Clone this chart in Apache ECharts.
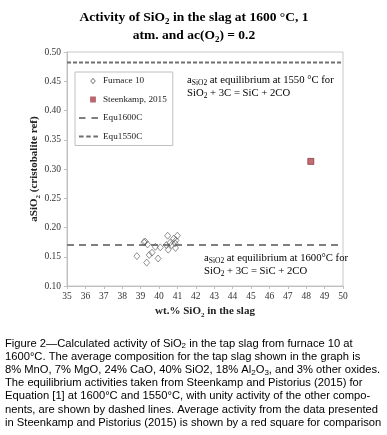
<!DOCTYPE html>
<html>
<head>
<meta charset="utf-8">
<script src="https://cdn.jsdelivr.net/npm/echarts@6/dist/echarts.min.js"></script>
<style>
html,body{margin:0;padding:0;background:#fff;}
#chart{width:387px;height:435px;}
</style>
</head>
<body>
<div id="chart"></div>
<script>
// ---- data ----
const xTicks = { min: 35, max: 50, interval: 1 };
const yTicks = { min: 0.10, max: 0.50, interval: 0.05 };
const furnaceX = [38.8, 39.18, 39.25, 39.38, 39.47, 39.33, 39.62, 39.8, 39.95, 40.07, 40.47, 40.5, 40.6, 40.8, 40.92, 41.0, 40.87, 40.9, 40.68, 40.4];
const furnaceY = [0.151, 0.175, 0.176, 0.171, 0.153, 0.140, 0.157, 0.167, 0.147, 0.166, 0.186, 0.162, 0.174, 0.181, 0.178, 0.186, 0.173, 0.165, 0.170, 0.170];
const steenX = [48.25];
const steenY = [0.313];
const equ1600 = 0.170;
const equ1550 = 0.482;
const seriesNames = ['Furnace 10', 'Steenkamp, 2015', 'Equ1600C', 'Equ1550C'];

const serif = '"Liberation Serif", "DejaVu Serif", serif';
const sans = '"Liberation Sans", Arial, sans-serif';

const chart = echarts.init(document.getElementById('chart'), null, { renderer: 'canvas' });

function subRich(size, family, weight, color) {
  return {
    n: { fontSize: size, fontFamily: family, fontWeight: weight, color: color, lineHeight: size + 4, verticalAlign: 'middle' },
    s: { fontSize: Math.round(size * 0.68), fontFamily: family, fontWeight: weight, color: color, lineHeight: Math.round(size * 0.68), verticalAlign: 'bottom' }
  };
}

const captionLines = [
  '{n|Figure 2\u2014Calculated activity of SiO}{s|2}{n| in the tap slag from furnace 10 at}',
  '{n|1600°C. The average composition for the tap slag shown in the graph is}',
  '{n|8% MnO, 7% MgO, 24% CaO, 40% SiO2, 18% Al}{s|2}{n|O}{s|3}{n|, and 3% other oxides.}',
  '{n|The equilibrium activities taken from Steenkamp and Pistorius (2015) for}',
  '{n|Equation [1] at 1600°C and 1550°C, with unity activity of the other compo-}',
  '{n|nents, are shown by dashed lines. Average activity from the data presented}',
  '{n|in Steenkamp and Pistorius (2015) is shown by a red square for comparison}'
];

function annRich() {
  const r = subRich(10.7, serif, 'normal', '#222');
  r.n.lineHeight = 13; r.s.fontSize = 7.5; r.s.lineHeight = 8;
  return r;
}

// legend icon shapes (19 x 7 box; tiny corner specks fix the bounding box)
const specks = 'M0,0l0.01,0l0,0.01z M19,7l-0.01,0l0,-0.01z ';
const iconDiamond = 'path://' + specks + 'M14,0.2L16.8,3.5L14,6.8L11.2,3.5Z M14,1.4L12.2,3.5L14,5.6L15.8,3.5Z';
const iconSquare = 'path://' + specks + 'M11.1,0.6h5.8v5.8h-5.8z';
const iconDash1600 = 'path://' + specks + 'M0,2.6h6.5v1.8h-6.5z M12.5,2.6h6.5v1.8h-6.5z';
const iconDash1550 = 'path://' + specks + 'M0,2.6h4.6v1.8h-4.6z M7.2,2.6h4.6v1.8h-4.6z M14.4,2.6h4.6v1.8h-4.6z';

const graphics = [];
graphics.push({
  type: 'text', x: 194, y: 9,
  style: {
    text: '{n|Activity of SiO}{s|2}{n| in the slag at 1600 °C, 1}\n{n|atm. and ac(O}{s|2}{n|) = 0.2}',
    textAlign: 'center',
    rich: subRich(13.5, serif, 'bold', '#222')
  }
});
graphics.push({
  type: 'text', x: 187, y: 74,
  style: { text: '{n|a}{s|SiO2}{n| at equilibrium at 1550 °C for}\n{n|SiO}{s|2}{n| + 3C = SiC + 2CO}', rich: annRich() }
});
graphics.push({
  type: 'text', x: 204, y: 252,
  style: { text: '{n|a}{s|SiO2}{n| at equilibrium at 1600°C for}\n{n|SiO}{s|2}{n| + 3C = SiC + 2CO}', rich: annRich() }
});
captionLines.forEach(function (t, i) {
  graphics.push({
    type: 'text', x: 5, y: 337 + i * 13.2,
    style: { text: t, rich: (function(){ const r = subRich(11.2, sans, 'normal', '#111'); r.n.lineHeight = 13; r.s.fontSize = 8; r.s.lineHeight = 9; return r; })() }
  });
});

const option = {
  backgroundColor: '#fff',
  animation: false,
  grid: { left: 67, right: 44, top: 52, bottom: 149, show: true, borderColor: '#c8c8c8', borderWidth: 1 },
  legend: {
    orient: 'vertical', left: 75, top: 72,
    data: [
      { name: seriesNames[0], icon: iconDiamond, itemStyle: { color: '#555', borderWidth: 0 } },
      { name: seriesNames[1], icon: iconSquare, itemStyle: { color: '#a8404a', borderWidth: 0 } },
      { name: seriesNames[2], icon: iconDash1600, itemStyle: { color: '#7f7f7f', borderWidth: 0 } },
      { name: seriesNames[3], icon: iconDash1550, itemStyle: { color: '#707070', borderWidth: 0 } }
    ],
    itemWidth: 19, itemHeight: 7, itemGap: 8.5,
    padding: [4, 6, 4, 4],
    backgroundColor: '#fff', borderColor: '#c0c0c0', borderWidth: 1,
    textStyle: { fontFamily: serif, fontSize: 9.2, color: '#222', lineHeight: 10 }
  },
  xAxis: {
    type: 'value', min: xTicks.min, max: xTicks.max, interval: xTicks.interval,
    name: '{n|wt.% SiO}{s|2}{n| in the slag}', nameLocation: 'middle', nameGap: 18,
    nameMoveOverlap: false,
    nameTextStyle: { rich: subRich(11, serif, 'bold', '#222') },
    axisLine: { lineStyle: { color: '#bfbfbf' } },
    axisTick: { show: true, length: 3, lineStyle: { color: '#bfbfbf' } },
    axisLabel: { fontFamily: serif, fontSize: 9.5, color: '#333', margin: 5 },
    splitLine: { show: false }
  },
  yAxis: {
    type: 'value', min: yTicks.min, max: yTicks.max, interval: yTicks.interval,
    name: '{n|aSiO}{s|2}{n| (cristobalite ref)}', nameLocation: 'middle', nameGap: 25,
    nameMoveOverlap: false,
    nameTextStyle: { rich: subRich(11, serif, 'bold', '#222') },
    axisLine: { show: true, lineStyle: { color: '#bfbfbf' } },
    axisTick: { show: true, length: 3, lineStyle: { color: '#bfbfbf' } },
    axisLabel: { fontFamily: serif, fontSize: 9.5, color: '#333', margin: 6, formatter: function (v) { return v.toFixed(2); } },
    splitLine: { show: false }
  },
  series: [
    {
      name: seriesNames[0], type: 'scatter', symbol: 'diamond', symbolSize: [6, 7],
      itemStyle: { color: 'rgba(255,255,255,0)', borderColor: '#555', borderWidth: 0.8 },
      data: furnaceX.map(function (x, i) { return [x, furnaceY[i]]; }), z: 5
    },
    {
      name: seriesNames[1], type: 'scatter', symbol: 'rect', symbolSize: 6,
      itemStyle: { color: '#b9474f', borderColor: '#6b2227', borderWidth: 0.8 },
      data: steenX.map(function (x, i) { return [x, steenY[i]]; }), z: 5
    },
    {
      name: seriesNames[2], type: 'line', symbol: 'none', color: '#7f7f7f',
      lineStyle: { color: '#7f7f7f', width: 2, type: [7, 5] },
      data: [[xTicks.min, equ1600], [xTicks.max, equ1600]], z: 3
    },
    {
      name: seriesNames[3], type: 'line', symbol: 'none', color: '#707070',
      lineStyle: { color: '#707070', width: 2, type: [4, 2] },
      data: [[xTicks.min, equ1550], [xTicks.max, equ1550]], z: 3
    }
  ],
  graphic: graphics
};
chart.setOption(option);
</script>
</body>
</html>
